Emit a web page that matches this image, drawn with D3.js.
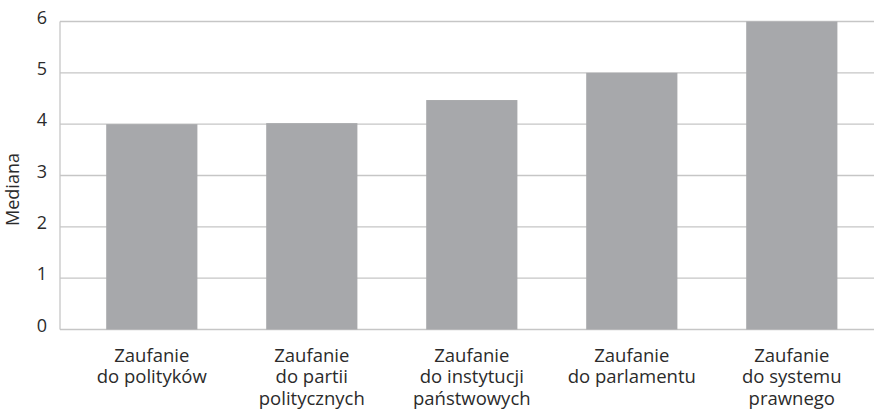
<!DOCTYPE html>
<html><head><meta charset="utf-8">
<script src="https://cdn.jsdelivr.net/npm/d3@7"></script>
<style>body{margin:0;background:#fff}svg{display:block}text{font-family:"Open Sans",sans-serif;fill:#2b2b2b}</style>
</head><body><svg id="c" width="874" height="411"></svg>
<script>
const categories = [
  ["Zaufanie","do polityków"],
  ["Zaufanie","do partii","politycznych"],
  ["Zaufanie","do instytucji","państwowych"],
  ["Zaufanie","do parlamentu"],
  ["Zaufanie","do systemu","prawnego"]
];
const values = [4.0, 4.02, 4.47, 5.0, 6.0];
const yTicks = [0,1,2,3,4,5,6];
const yTitle = "Mediana";

(function(){
const svg = d3.select("#c");
const plotL = 60, plotR = 874, plotT = 21.5, plotB = 329.5;
const x = d3.scaleBand().domain(d3.range(values.length)).range([71.8, 871.8]).paddingInner(0.43).paddingOuter(0.215);
const y = d3.scaleLinear().domain([0,6]).range([plotB, plotT]);

svg.append("g").selectAll("line").data(yTicks).join("line")
  .attr("x1", plotL).attr("x2", plotR)
  .attr("y1", d=>y(d)).attr("y2", d=>y(d))
  .attr("stroke", "#c6c6c6").attr("stroke-width", 1.3);
svg.append("line").attr("x1", plotL).attr("x2", plotL).attr("y1", plotT).attr("y2", plotB)
  .attr("stroke", "#c6c6c6").attr("stroke-width", 1.3);

svg.append("g").selectAll("rect").data(values).join("rect")
  .attr("x", (d,i)=>x(i)).attr("width", x.bandwidth())
  .attr("y", d=>y(d)).attr("height", d=>y(0)-y(d))
  .attr("fill", "#a7a8ab");

svg.append("g").selectAll("text").data(yTicks).join("text")
  .attr("x", 47).attr("y", d=>y(d) + 2)
  .attr("text-anchor", "end").attr("font-size", 18).text(d=>d);

svg.append("text").attr("transform", `translate(19,${(plotT+plotB)/2 + 14}) rotate(-90)`)
  .attr("text-anchor", "middle").attr("font-size", 18).text(yTitle);

const cg = svg.append("g").selectAll("text").data(categories).join("text")
  .attr("text-anchor", "middle").attr("font-size", 18.5);
cg.each(function(lines, i){
  d3.select(this).selectAll("tspan").data(lines).join("tspan")
    .attr("x", x(i) + x.bandwidth()/2)
    .attr("y", (d,j)=>361.5 + j*21.5)
    .text(d=>d);
});
})();
</script></body></html>
